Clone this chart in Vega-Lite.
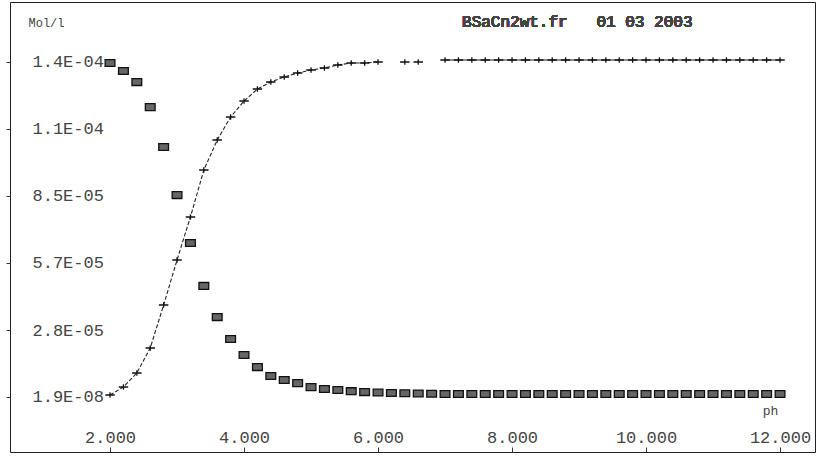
{
  "$schema": "https://vega.github.io/schema/vega-lite/v6.json",
  "autosize": "none",
  "width": 805,
  "height": 450,
  "padding": {"left": 10, "top": 2, "right": 4, "bottom": 4},
  "background": "white",
  "config": {
    "view": {"stroke": "#222", "strokeWidth": 1},
    "axis": {
      "grid": false,
      "domain": false,
      "labelFont": "Liberation Mono",
      "titleFont": "Liberation Mono",
      "labelColor": "#444",
      "titleColor": "#444",
      "tickColor": "#333",
      "titleFontWeight": "normal"
    }
  },
  "data": {
    "values": [
      {"pH": 2.0, "bound": 8.7e-7, "free": 1.416e-4},
      {"pH": 2.2, "bound": 4.26e-6, "free": 1.382e-4},
      {"pH": 2.4, "bound": 1.019e-5, "free": 1.335e-4},
      {"pH": 2.6, "bound": 2.079e-5, "free": 1.229e-4},
      {"pH": 2.8, "bound": 3.902e-5, "free": 1.06e-4},
      {"pH": 3.0, "bound": 5.809e-5, "free": 8.56e-5},
      {"pH": 3.2, "bound": 7.632e-5, "free": 6.53e-5},
      {"pH": 3.4, "bound": 9.624e-5, "free": 4.71e-5},
      {"pH": 3.6, "bound": 1.0896e-4, "free": 3.39e-5},
      {"pH": 3.8, "bound": 1.1871e-4, "free": 2.46e-5},
      {"pH": 4.0, "bound": 1.2549e-4, "free": 1.78e-5},
      {"pH": 4.2, "bound": 1.3058e-4, "free": 1.27e-5},
      {"pH": 4.4, "bound": 1.3355e-4, "free": 8.9e-6},
      {"pH": 4.6, "bound": 1.3567e-4, "free": 7.2e-6},
      {"pH": 4.8, "bound": 1.3736e-4, "free": 5.9e-6},
      {"pH": 5.0, "bound": 1.3863e-4, "free": 4.2e-6},
      {"pH": 5.2, "bound": 1.3948e-4, "free": 3.4e-6},
      {"pH": 5.4, "bound": 1.4075e-4, "free": 3.0e-6},
      {"pH": 5.6, "bound": 1.416e-4, "free": 2.5e-6},
      {"pH": 5.8, "bound": 1.416e-4, "free": 2.1e-6},
      {"pH": 6.0, "bound": 1.4203e-4, "free": 1.9e-6},
      {"pH": 6.2, "bound": null, "free": 1.7e-6},
      {"pH": 6.4, "bound": 1.4203e-4, "free": 1.6e-6},
      {"pH": 6.6, "bound": 1.4203e-4, "free": 1.5e-6},
      {"pH": 6.8, "bound": null, "free": 1.4e-6},
      {"pH": 7.0, "bound": 1.4287e-4, "free": 1.3e-6},
      {"pH": 7.2, "bound": 1.4287e-4, "free": 1.3e-6},
      {"pH": 7.4, "bound": 1.4287e-4, "free": 1.3e-6},
      {"pH": 7.6, "bound": 1.4287e-4, "free": 1.3e-6},
      {"pH": 7.8, "bound": 1.4287e-4, "free": 1.3e-6},
      {"pH": 8.0, "bound": 1.4287e-4, "free": 1.3e-6},
      {"pH": 8.2, "bound": 1.4287e-4, "free": 1.3e-6},
      {"pH": 8.4, "bound": 1.4287e-4, "free": 1.3e-6},
      {"pH": 8.6, "bound": 1.4287e-4, "free": 1.3e-6},
      {"pH": 8.8, "bound": 1.4287e-4, "free": 1.3e-6},
      {"pH": 9.0, "bound": 1.4287e-4, "free": 1.3e-6},
      {"pH": 9.2, "bound": 1.4287e-4, "free": 1.3e-6},
      {"pH": 9.4, "bound": 1.4287e-4, "free": 1.3e-6},
      {"pH": 9.6, "bound": 1.4287e-4, "free": 1.3e-6},
      {"pH": 9.8, "bound": 1.4287e-4, "free": 1.3e-6},
      {"pH": 10.0, "bound": 1.4287e-4, "free": 1.3e-6},
      {"pH": 10.2, "bound": 1.4287e-4, "free": 1.3e-6},
      {"pH": 10.4, "bound": 1.4287e-4, "free": 1.3e-6},
      {"pH": 10.6, "bound": 1.4287e-4, "free": 1.3e-6},
      {"pH": 10.8, "bound": 1.4287e-4, "free": 1.3e-6},
      {"pH": 11.0, "bound": 1.4287e-4, "free": 1.3e-6},
      {"pH": 11.2, "bound": 1.4287e-4, "free": 1.3e-6},
      {"pH": 11.4, "bound": 1.4287e-4, "free": 1.3e-6},
      {"pH": 11.6, "bound": 1.4287e-4, "free": 1.3e-6},
      {"pH": 11.8, "bound": 1.4287e-4, "free": 1.3e-6},
      {"pH": 12.0, "bound": 1.4287e-4, "free": 1.3e-6}
    ]
  },
  "encoding": {
    "x": {
      "field": "pH",
      "type": "quantitative",
      "scale": {"domain": [0.507, 12.522], "nice": false, "zero": false},
      "axis": {
        "orient": "bottom",
        "values": [2, 4, 6, 8, 10, 12],
        "format": ".3f",
        "tickSize": -5,
        "labelPadding": -10,
        "labelBaseline": "middle",
        "labelFontSize": 17,
        "labelFlush": false,
        "zindex": 2,
        "title": "ph",
        "titleFontSize": 13,
        "titleX": 760,
        "titleY": -42,
        "titleAlign": "center",
        "titleBaseline": "middle"
      }
    }
  },
  "layer": [
    {
      "transform": [{"filter": "datum.bound != null && datum.pH <= 6.0"}],
      "mark": {"type": "line", "color": "#222", "strokeWidth": 1.1, "strokeDash": [4, 2]},
      "encoding": {
        "y": {
          "field": "bound",
          "type": "quantitative",
          "scale": {"domain": [-2.3296e-5, 1.6746e-4], "nice": false, "zero": false},
          "axis": {
            "orient": "left",
            "values": [1.9e-8, 2.842e-5, 5.683e-5, 8.525e-5, 1.1366e-4, 1.4203e-4],
            "labelExpr": "datum.value > 1.3e-4 ? '1.4E-04' : datum.value > 1.0e-4 ? '1.1E-04' : datum.value > 7.0e-5 ? '8.5E-05' : datum.value > 4.0e-5 ? '5.7E-05' : datum.value > 1.0e-5 ? '2.8E-05' : '1.9E-08'",
            "tickSize": 4,
            "labelAlign": "left",
            "labelBaseline": "middle",
            "labelPadding": -26,
            "labelFontSize": 17,
            "zindex": 2,
            "title": "Mol/l",
            "titleFontSize": 12,
            "titleAngle": 0,
            "titleAlign": "left",
            "titleBaseline": "middle",
            "titleX": 18,
            "titleY": 20
          }
        }
      }
    },
    {
      "transform": [{"filter": "datum.bound != null && datum.pH >= 7.0"}],
      "mark": {"type": "line", "color": "#222", "strokeWidth": 1.1},
      "encoding": {"y": {"field": "bound", "type": "quantitative"}}
    },
    {
      "transform": [{"filter": "datum.bound != null"}],
      "mark": {
        "type": "point",
        "shape": "M-1,0H1M0,-0.6V0.6",
        "size": 90,
        "filled": false,
        "stroke": "#111",
        "strokeWidth": 1.3,
        "opacity": 1
      },
      "encoding": {"y": {"field": "bound", "type": "quantitative"}}
    },
    {
      "mark": {
        "type": "point",
        "shape": "M-1,-0.7H1V0.7H-1Z",
        "size": 95,
        "filled": true,
        "fill": "#666",
        "stroke": "#111",
        "strokeWidth": 1.3,
        "opacity": 1
      },
      "encoding": {"y": {"field": "free", "type": "quantitative"}}
    },
    {
      "mark": {
        "type": "text",
        "text": "BSaCn2wt.fr\u00a0\u00a0\u00a001\u00a003\u00a02003",
        "font": "Liberation Mono",
        "fontSize": 16,
        "color": "#444",
        "align": "left",
        "baseline": "middle"
      },
      "encoding": {
        "x": {"datum": 7.254},
        "y": {"datum": 1.5898e-4}
      }
    }
  ]
}
